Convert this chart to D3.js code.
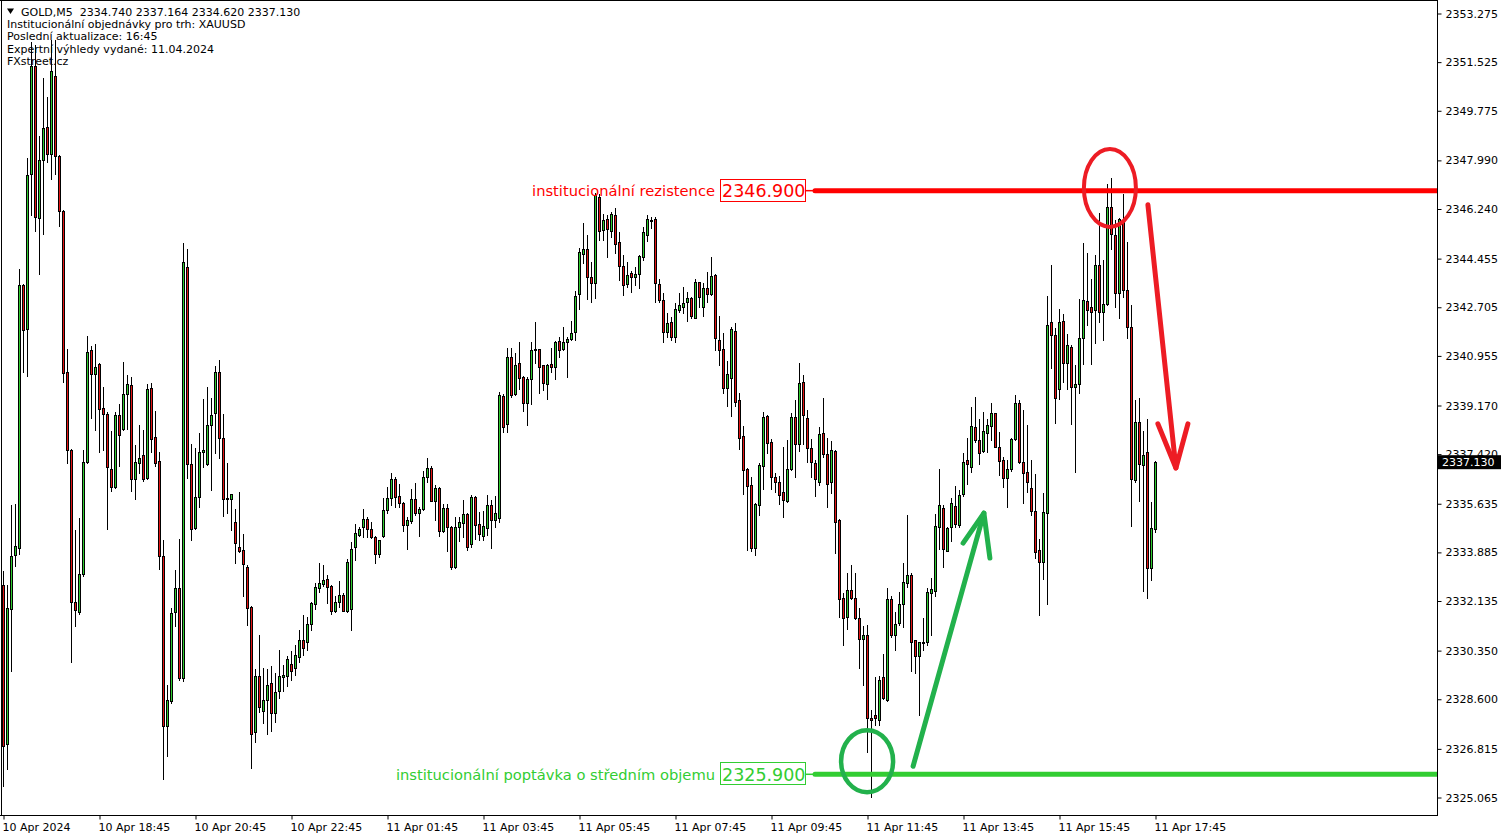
<!DOCTYPE html>
<html><head><meta charset="utf-8">
<script src="https://cdn.jsdelivr.net/npm/d3@7"></script>
<style>
html,body{margin:0;padding:0;background:#fff}
svg{display:block}
text{font-family:"DejaVu Sans",Verdana,sans-serif;white-space:pre}
</style>
</head><body>
<svg id="chart" width="1508" height="840"></svg>
<script>
// ---- DATA ----
// 5-minute GOLD candles: [open, high, low, close]
const candles = [
[2332.71,2333.21,2325.47,2326.93],[2326.99,2332.71,2326.09,2331.88],[2331.85,2335.59,2329.61,2333.75],[2333.79,2335.63,2333.39,2334.11],
[2334.04,2344.09,2333.83,2343.51],[2343.51,2343.55,2340.38,2341.89],[2341.93,2348.08,2340.23,2347.47],[2347.51,2352.26,2346.03,2351.39],
[2351.39,2352.15,2345.45,2345.96],[2345.92,2348.87,2343.91,2348.01],[2348.01,2350.96,2345.35,2349.14],[2349.18,2350.28,2347.94,2348.23],
[2348.23,2352.33,2347.33,2351.19],[2351.03,2352.33,2347.51,2348.15],[2348.15,2348.18,2345.63,2346.17],[2346.17,2346.20,2340.02,2340.34],
[2340.38,2341.22,2337.10,2337.57],[2337.57,2337.60,2329.94,2332.10],[2332.10,2334.69,2331.23,2331.81],[2331.75,2335.12,2331.67,2333.11],
[2333.11,2337.57,2333.03,2337.14],[2337.14,2341.66,2337.10,2341.10],[2341.17,2341.31,2338.72,2340.31],[2340.31,2341.39,2338.29,2340.56],
[2340.65,2340.70,2337.50,2339.05],[2339.07,2339.83,2337.58,2338.86],[2338.86,2338.95,2334.74,2336.95],[2336.87,2338.25,2336.08,2336.23],
[2336.22,2338.95,2336.19,2338.82],[2338.82,2339.22,2336.99,2338.12],[2338.31,2340.74,2338.28,2339.58],[2339.58,2340.27,2338.31,2339.93],
[2339.90,2340.18,2336.10,2336.54],[2336.54,2337.74,2335.82,2337.13],[2337.09,2338.46,2336.73,2337.28],[2337.39,2338.29,2336.47,2336.54],
[2336.57,2339.95,2336.54,2339.75],[2339.79,2339.98,2337.49,2337.98],[2338.02,2338.97,2336.99,2337.11],[2337.17,2337.49,2333.30,2333.77],
[2333.77,2334.33,2325.73,2327.65],[2327.65,2329.10,2326.57,2328.57],[2328.53,2331.87,2328.47,2331.70],[2331.75,2333.26,2331.22,2332.60],
[2332.60,2334.37,2329.31,2329.35],[2329.37,2345.00,2329.27,2344.32],[2344.14,2344.81,2336.57,2337.05],[2337.05,2337.78,2334.33,2334.74],
[2334.75,2337.64,2334.72,2335.89],[2335.89,2338.17,2335.53,2337.49],[2337.51,2339.40,2336.95,2337.57],[2337.07,2339.83,2337.02,2338.46],
[2338.46,2339.45,2336.13,2338.83],[2338.89,2340.59,2337.45,2340.37],[2340.37,2340.81,2337.29,2338.01],[2337.99,2338.87,2335.21,2335.80],
[2335.83,2337.09,2335.31,2335.80],[2335.80,2335.99,2334.69,2335.98],[2334.97,2335.44,2333.49,2334.21],[2334.09,2336.05,2333.91,2333.95],
[2333.96,2334.55,2332.32,2333.46],[2333.35,2333.43,2331.27,2331.87],[2331.91,2331.95,2326.11,2327.34],[2327.43,2329.68,2327.07,2329.43],
[2329.43,2330.91,2328.15,2328.33],[2328.19,2329.71,2327.75,2328.59],[2328.59,2329.68,2327.34,2329.11],[2329.17,2329.79,2327.47,2328.11],
[2328.11,2329.53,2327.79,2328.85],[2328.90,2330.37,2328.63,2329.43],[2329.41,2329.83,2328.90,2329.47],[2329.44,2330.15,2329.07,2330.04],
[2329.87,2330.33,2329.29,2329.62],[2329.72,2330.55,2329.47,2330.19],[2330.12,2331.09,2329.94,2330.73],[2330.73,2331.63,2330.19,2330.44],
[2330.66,2331.57,2330.37,2331.31],[2331.30,2332.10,2331.09,2332.05],[2332.02,2332.77,2331.84,2332.64],[2332.59,2333.49,2332.47,2332.77],
[2332.74,2333.43,2332.68,2332.89],[2332.93,2333.07,2332.07,2332.65],[2332.67,2332.70,2331.67,2331.79],[2331.79,2332.32,2331.73,2332.09],
[2332.09,2332.85,2331.93,2332.35],[2332.35,2332.41,2331.77,2331.79],[2331.77,2333.65,2331.75,2333.54],[2331.86,2334.25,2331.09,2334.01],
[2334.07,2334.91,2333.61,2334.57],[2334.51,2334.81,2334.49,2334.73],[2334.81,2335.45,2334.45,2335.08],[2335.08,2335.15,2334.43,2334.72],
[2334.73,2334.99,2334.40,2334.43],[2334.43,2334.46,2333.49,2333.82],[2333.82,2334.32,2333.71,2334.32],[2334.47,2335.85,2334.45,2335.40],
[2335.41,2336.25,2335.29,2335.83],[2335.83,2336.73,2335.59,2336.51],[2336.51,2336.61,2335.53,2335.89],[2335.91,2336.35,2335.53,2335.65],
[2335.65,2335.68,2334.66,2334.87],[2334.87,2335.15,2334.01,2335.05],[2335.02,2336.17,2334.93,2335.80],[2335.80,2336.37,2335.23,2335.31],
[2335.31,2335.53,2334.49,2335.44],[2335.44,2336.83,2335.41,2336.59],[2336.59,2337.28,2336.43,2336.91],[2336.91,2336.99,2335.75,2335.75],
[2335.75,2336.31,2335.05,2336.19],[2336.19,2336.23,2334.49,2334.66],[2334.66,2335.63,2334.63,2335.47],[2335.47,2335.63,2333.95,2334.81],
[2334.81,2334.83,2333.28,2333.37],[2333.37,2335.15,2333.31,2334.81],[2334.81,2335.17,2334.31,2334.99],[2334.93,2335.77,2334.45,2335.27],
[2335.27,2335.29,2333.97,2334.09],[2334.18,2335.95,2334.07,2335.87],[2335.87,2335.90,2334.36,2334.87],[2334.90,2335.34,2334.33,2334.54],
[2334.49,2335.37,2334.33,2334.85],[2334.76,2335.95,2334.51,2335.59],[2335.59,2335.77,2334.04,2335.05],[2335.05,2335.90,2334.80,2335.30],
[2335.12,2339.66,2334.98,2339.55],[2339.51,2339.58,2338.23,2338.41],[2338.50,2341.23,2338.23,2340.91],[2340.91,2341.23,2339.49,2339.55],
[2339.58,2341.05,2339.55,2340.61],[2340.69,2341.45,2339.77,2340.17],[2340.19,2340.22,2338.99,2339.25],[2339.25,2340.21,2338.47,2340.12],
[2340.12,2341.45,2339.23,2341.17],[2341.21,2342.17,2340.71,2341.15],[2341.20,2341.22,2339.61,2340.57],[2340.61,2340.63,2339.71,2339.97],
[2339.94,2340.66,2339.40,2340.61],[2340.66,2341.23,2340.39,2340.57],[2340.55,2341.49,2340.12,2341.45],[2341.49,2341.65,2340.93,2341.15],
[2341.20,2341.99,2341.17,2341.45],[2341.45,2341.65,2340.21,2341.57],[2341.56,2342.21,2341.53,2341.77],[2341.83,2343.29,2341.53,2343.11],
[2343.18,2344.83,2342.65,2344.71],[2344.62,2345.73,2344.29,2344.80],[2344.80,2345.29,2343.01,2343.79],[2343.79,2344.35,2342.89,2343.59],
[2343.59,2346.81,2343.05,2346.75],[2346.69,2346.77,2345.13,2345.45],[2345.47,2346.06,2345.13,2345.85],[2345.89,2346.01,2344.53,2345.52],
[2345.45,2346.15,2345.25,2346.07],[2346.03,2346.29,2344.65,2344.98],[2345.05,2345.43,2343.69,2344.19],[2344.19,2344.57,2343.15,2343.51],
[2343.54,2344.33,2343.45,2343.85],[2343.93,2344.01,2343.27,2343.80],[2343.79,2344.15,2343.51,2343.91],[2343.90,2344.57,2343.39,2344.55],
[2344.53,2345.61,2344.41,2345.41],[2345.31,2346.03,2345.09,2345.89],[2345.85,2345.97,2345.55,2345.81],[2345.89,2345.97,2342.91,2343.59],
[2343.55,2343.73,2342.89,2342.97],[2342.97,2343.21,2341.45,2341.83],[2341.83,2342.49,2341.65,2342.13],[2342.17,2342.37,2341.53,2341.63],
[2341.62,2342.85,2341.47,2342.63],[2342.59,2343.23,2342.55,2342.79],[2342.71,2343.43,2342.49,2342.87],[2342.89,2343.25,2342.22,2343.03],
[2343.03,2343.09,2342.33,2342.40],[2342.33,2343.71,2342.31,2343.62],[2343.61,2343.63,2342.73,2343.07],[2342.71,2343.57,2342.40,2343.39],
[2343.39,2343.97,2342.91,2343.18],[2343.18,2344.53,2343.15,2343.83],[2343.87,2343.89,2341.15,2341.61],[2341.53,2342.39,2340.63,2341.15],
[2341.21,2341.77,2339.63,2339.81],[2339.81,2340.77,2339.15,2340.29],[2340.17,2342.01,2338.79,2341.93],[2341.85,2342.15,2339.15,2339.31],
[2339.37,2339.63,2337.61,2338.01],[2338.07,2338.43,2335.99,2336.85],[2336.89,2336.91,2333.97,2336.29],[2336.31,2336.59,2333.93,2334.05],
[2334.05,2335.65,2333.79,2335.63],[2335.59,2337.09,2335.23,2337.03],[2337.01,2338.93,2336.17,2338.75],[2338.81,2338.83,2337.47,2337.81],
[2337.85,2337.97,2336.16,2336.58],[2336.59,2336.73,2336.07,2336.41],[2336.41,2336.63,2335.62,2335.95],[2336.07,2337.67,2335.15,2335.77],
[2335.75,2337.93,2335.71,2336.87],[2336.87,2338.91,2336.85,2338.75],[2338.75,2339.37,2336.61,2337.79],[2337.79,2340.69,2337.55,2339.97],
[2340.01,2340.25,2337.79,2338.83],[2338.71,2339.01,2337.15,2337.65],[2337.63,2337.95,2336.61,2337.13],[2337.11,2337.21,2335.91,2336.51],
[2336.43,2338.41,2336.31,2338.15],[2338.17,2339.45,2337.33,2337.42],[2337.42,2338.01,2335.53,2336.34],[2336.43,2337.89,2336.03,2337.57],
[2337.53,2337.57,2333.87,2334.99],[2335.05,2335.08,2331.57,2332.20],[2332.23,2332.41,2330.55,2331.51],[2331.55,2333.13,2331.12,2332.53],
[2332.53,2333.43,2332.20,2332.23],[2332.23,2333.13,2331.47,2331.51],[2331.51,2331.87,2329.71,2330.76],[2330.76,2331.23,2329.11,2330.91],
[2330.91,2331.27,2326.71,2327.91],[2327.92,2328.21,2325.08,2327.85],[2328.03,2329.41,2327.67,2327.91],[2327.85,2329.43,2327.67,2329.31],
[2329.39,2330.23,2328.60,2328.63],[2328.57,2332.59,2328.55,2332.20],[2332.20,2332.31,2330.85,2330.91],[2330.93,2331.73,2330.37,2331.30],
[2331.35,2332.47,2331.27,2332.02],[2332.02,2333.51,2331.21,2332.83],[2332.79,2335.23,2332.63,2333.07],[2333.07,2333.13,2329.62,2330.65],
[2330.73,2330.75,2329.53,2330.16],[2330.16,2330.67,2328.03,2330.65],[2330.61,2331.51,2330.37,2330.65],[2330.67,2332.59,2330.55,2332.47],
[2332.43,2332.95,2330.91,2332.55],[2332.50,2335.25,2332.31,2334.83],[2334.81,2336.89,2333.99,2335.59],[2335.49,2335.59,2333.37,2334.01],
[2333.95,2334.81,2333.93,2334.75],[2334.79,2335.83,2334.31,2335.65],[2335.55,2336.27,2334.81,2334.91],[2334.87,2336.13,2334.81,2335.95],
[2335.98,2337.45,2335.91,2337.15],[2337.21,2337.99,2336.35,2337.07],[2336.97,2339.13,2336.77,2338.45],[2338.41,2339.49,2337.87,2337.93],
[2337.93,2338.68,2337.07,2337.47],[2337.55,2338.93,2337.51,2338.25],[2338.17,2338.68,2337.51,2338.47],[2338.45,2339.25,2337.93,2338.89],
[2338.89,2338.91,2337.67,2337.67],[2337.67,2338.21,2336.67,2337.19],[2337.21,2337.33,2336.25,2336.55],[2336.55,2337.21,2335.51,2336.87],
[2336.87,2337.99,2336.83,2337.97],[2337.95,2339.55,2337.93,2339.25],[2339.25,2339.37,2337.09,2337.15],[2337.15,2339.01,2335.67,2336.73],
[2336.77,2338.47,2336.07,2336.43],[2336.19,2337.21,2335.23,2335.39],[2335.37,2336.71,2333.67,2333.89],[2333.97,2334.36,2331.63,2333.55],
[2333.55,2336.01,2332.92,2335.33],[2335.31,2343.11,2332.03,2342.07],[2342.19,2344.23,2340.51,2341.69],[2341.71,2341.97,2338.55,2339.43],
[2339.76,2342.63,2339.41,2342.18],[2342.21,2342.47,2340.01,2340.69],[2340.69,2341.75,2339.77,2341.35],[2341.27,2341.35,2338.51,2339.83],
[2339.83,2340.63,2336.79,2339.94],[2339.94,2343.01,2339.63,2341.59],[2341.59,2345.01,2340.67,2342.95],[2342.93,2344.65,2342.07,2342.61],
[2342.73,2343.73,2340.67,2342.55],[2342.59,2344.59,2341.41,2344.23],[2344.23,2346.09,2342.19,2342.55],[2342.55,2344.39,2341.51,2342.82],
[2342.82,2347.15,2342.79,2346.31],[2346.31,2347.35,2344.81,2345.34],[2345.31,2345.85,2342.73,2343.21],[2343.23,2345.93,2342.33,2345.88],
[2345.85,2346.79,2343.09,2343.31],[2343.33,2345.05,2341.59,2341.99],[2341.99,2342.79,2334.85,2336.51],[2336.49,2339.37,2336.43,2338.57],
[2338.59,2339.43,2335.75,2337.06],[2337.03,2338.25,2332.51,2337.39],[2337.49,2338.68,2332.25,2333.31],[2333.31,2335.71,2332.89,2334.75],
[2334.74,2337.164,2334.62,2337.13]
];
const timeTickIndex = [0,24,48,72,96,120,144,168,192,216,240,264,288];
const timeTickLabels = ["10 Apr 2024","10 Apr 18:45","10 Apr 20:45","10 Apr 22:45","11 Apr 01:45","11 Apr 03:45",
  "11 Apr 05:45","11 Apr 07:45","11 Apr 09:45","11 Apr 11:45","11 Apr 13:45","11 Apr 15:45","11 Apr 17:45"];
const priceTicks = [2353.275,2351.525,2349.775,2347.990,2346.240,2344.455,2342.705,2340.955,2339.170,
  2337.420,2335.635,2333.885,2332.135,2330.350,2328.600,2326.815,2325.065];
const headerLines = ["GOLD,M5  2334.740 2337.164 2334.620 2337.130","Institucionální objednávky pro trh: XAUUSD",
  "Poslední aktualizace: 16:45","Expertní výhledy vydané: 11.04.2024","FXstreet.cz"];
const levelValues = [2346.900, 2325.900];
const levelLabels = ["institucionální rezistence", "institucionální poptávka o středním objemu"];
const lastPrice = 2337.130;
// hand-drawn marks, in [bar index, price]
const redCircle = [276.6, 2347.00];
const greenCircle = [215.9, 2326.37];
const greenArrow = [[227.4,2326.19],[245.1,2335.30]];
const greenArrowHead = [[239.9,2334.22],[245.1,2335.30],[246.6,2333.68]];
const redArrow = [[286.1,2346.39],[293.1,2336.92]];
const redArrowHead = [[288.6,2338.51],[293.1,2336.92],[296.1,2338.51]];

// ---- DRAW ----
const W = 1508, H = 840, plotR = 1437, plotB = 815;
const svg = d3.select("#chart");
const x = d3.scaleLinear().domain([0, 288]).range([3.5, 1155.5]);
const y = d3.scaleLinear().domain([2325.065, 2353.275]).range([797.5, 13.5]);
const BULL = "#2fcb2f", BEAR = "#e31414", LVL_R = "#ff0000", LVL_G = "#32cd32", PAINT_G = "#22b14c", PAINT_R = "#ed1c24";

svg.append("defs").append("clipPath").attr("id","plot").append("rect")
  .attr("x",0).attr("y",0).attr("width",plotR).attr("height",plotB);
const plot = svg.append("g").attr("clip-path","url(#plot)");

// header
const hdr = svg.append("g").attr("font-size",11).attr("fill","#000");
hdr.append("path").attr("d","M7,8.5 L14,8.5 L10.5,14 Z").attr("fill","#000");
headerLines.forEach((t,i)=>{
  hdr.append("text").attr("x", i===0?21:7).attr("y", 16 + i*12.2).attr("xml:space","preserve").text(t);
});

// candles
const px = v => Math.round(v);
const cg = plot.append("g");
candles.forEach((d,i)=>{
  const [o,h,l,c] = d;
  const cx = x(i);
  cg.append("line").attr("x1",cx).attr("x2",cx)
    .attr("y1",px(y(h))).attr("y2",px(y(l))+1).attr("stroke","#000").attr("stroke-width",1);
  const top = px(y(Math.max(o,c))), bot = px(y(Math.min(o,c)));
  cg.append("rect").attr("x",cx-1).attr("y",top+0.5).attr("width",2).attr("height",Math.max(bot-top,1))
    .attr("fill", c>=o?BULL:BEAR).attr("stroke","#000").attr("stroke-width",1);
});

// level lines + labels
const lvlCol = [LVL_R, LVL_G];
levelValues.forEach((v,i)=>{
  const yy = y(v);
  plot.append("line").attr("x1",806).attr("x2",816).attr("y1",yy).attr("y2",yy)
    .attr("stroke",lvlCol[i]).attr("stroke-width",1.5);
  plot.append("line").attr("x1",815).attr("x2",plotR).attr("y1",yy).attr("y2",yy)
    .attr("stroke",lvlCol[i]).attr("stroke-width",5).attr("stroke-linecap","round");
  plot.append("rect").attr("x",720.5).attr("y",Math.round(yy)-11.5).attr("width",85).attr("height",22)
    .attr("fill","#fff").attr("stroke",lvlCol[i]).attr("stroke-width",1);
  plot.append("text").attr("x",722).attr("y",yy+6.5).attr("font-size",17.5).attr("fill",lvlCol[i])
    .text(d3.format(".3f")(v));
  plot.append("text").attr("x",715).attr("y",yy+5.5).attr("font-size",14.7).attr("fill",lvlCol[i])
    .attr("text-anchor","end").text(levelLabels[i]);
});

// ellipses
plot.append("ellipse").attr("cx",x(redCircle[0])).attr("cy",y(redCircle[1])).attr("rx",26).attr("ry",39)
  .attr("fill","none").attr("stroke",PAINT_R).attr("stroke-width",4);
plot.append("ellipse").attr("cx",x(greenCircle[0])).attr("cy",y(greenCircle[1])).attr("rx",26).attr("ry",31)
  .attr("fill","none").attr("stroke",PAINT_G).attr("stroke-width",4.5);

// arrows
const ln = d3.line().x(d=>x(d[0])).y(d=>y(d[1]));
[[greenArrow,PAINT_G],[greenArrowHead,PAINT_G],[redArrow,PAINT_R],[redArrowHead,PAINT_R]].forEach(([pts,col])=>{
  plot.append("path").attr("d",ln(pts)).attr("fill","none").attr("stroke",col)
    .attr("stroke-width",5).attr("stroke-linecap","round").attr("stroke-linejoin","round");
});

// frame
svg.append("line").attr("x1",plotR+0.5).attr("x2",plotR+0.5).attr("y1",0).attr("y2",plotB+1).attr("stroke","#000");
svg.append("line").attr("x1",0).attr("x2",plotR+1).attr("y1",plotB+0.5).attr("y2",plotB+0.5).attr("stroke","#000");
svg.append("line").attr("x1",1.5).attr("x2",1.5).attr("y1",0).attr("y2",plotB).attr("stroke","#000");
svg.append("line").attr("x1",0).attr("x2",plotR).attr("y1",0.5).attr("y2",0.5).attr("stroke","#000");

// price axis
const ya = d3.axisRight(y).tickValues(priceTicks).tickSize(4).tickPadding(4).tickFormat(d3.format(".3f"));
const yg = svg.append("g").attr("transform",`translate(${plotR+0.5},0)`).call(ya);
yg.select(".domain").remove();
yg.selectAll("text").attr("font-size",11).attr("font-family","DejaVu Sans").attr("fill","#000");
yg.selectAll("line").attr("stroke","#000");

// current price tag (covers the nearby axis label, as in the terminal)
svg.append("rect").attr("x",plotR+1).attr("y",y(lastPrice)-7).attr("width",63).attr("height",14).attr("fill","#000");
svg.append("text").attr("x",plotR+5).attr("y",y(lastPrice)+4).attr("font-size",11).attr("fill","#fff")
  .text(d3.format(".3f")(lastPrice));

// time axis
const xa = d3.axisBottom(x).tickValues(timeTickIndex).tickSize(4).tickPadding(4)
  .tickFormat((d,i)=>timeTickLabels[i]);
const xg = svg.append("g").attr("transform",`translate(0,${plotB+0.5})`).call(xa);
xg.select(".domain").remove();
xg.selectAll("text").attr("font-size",11).attr("font-family","DejaVu Sans").attr("fill","#000")
  .attr("text-anchor","start").attr("dx",-1.5);
xg.selectAll("line").attr("stroke","#000");
</script>
</body></html>
